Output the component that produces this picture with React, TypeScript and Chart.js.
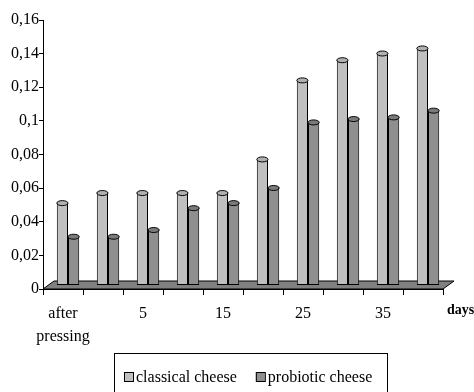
import React, { useEffect, useRef } from "react";
import { Chart, registerables } from "chart.js";

Chart.register(...registerables);

const categories: (string | string[])[] = [["after", "pressing"], "", "5", "", "15", "", "25", "", "35", ""];
const classicalCheese = [0.049, 0.055, 0.055, 0.055, 0.055, 0.075, 0.122, 0.134, 0.138, 0.141];
const probioticCheese = [0.029, 0.029, 0.033, 0.046, 0.049, 0.058, 0.097, 0.099, 0.1, 0.104];
const seriesNames = ["classical cheese", "probiotic cheese"];
const yTickLabels = ["0", "0,02", "0,04", "0,06", "0,08", "0,1", "0,12", "0,14", "0,16"];
const xAxisTitle = "days";

const FONT = "'Liberation Serif', 'Times New Roman', serif";
const barColors = ["#c0c0c0", "#8f8f8f"];
const capColors = ["#b0b0b0", "#7a7a7a"];

const decor = {
  id: "decor",
  beforeDatasetsDraw(chart: any) {
    const { ctx, chartArea } = chart;
    const { left, right, bottom } = chartArea;
    ctx.save();
    ctx.beginPath();
    ctx.moveTo(left, bottom);
    ctx.lineTo(right, bottom);
    ctx.lineTo(right + 11, bottom - 8);
    ctx.lineTo(left + 11, bottom - 8);
    ctx.closePath();
    ctx.fillStyle = "#808080";
    ctx.fill();
    ctx.strokeStyle = "#000";
    ctx.lineWidth = 1;
    ctx.stroke();
    ctx.restore();
    ctx.save();
    ctx.translate(5, -3.5);
  },
  afterDatasetsDraw(chart: any) {
    const ctx = chart.ctx;
    chart.data.datasets.forEach((_ds: any, di: number) => {
      const meta = chart.getDatasetMeta(di);
      meta.data.forEach((bar: any) => {
        const { x, y, width } = bar.getProps(["x", "y", "width"], true);
        ctx.beginPath();
        ctx.ellipse(x, y, width / 2, 2.5, 0, 0, Math.PI * 2);
        ctx.fillStyle = capColors[di];
        ctx.fill();
        ctx.strokeStyle = "#000";
        ctx.lineWidth = 1;
        ctx.stroke();
      });
    });
    ctx.restore();
  },
  afterDraw(chart: any) {
    const { ctx, chartArea } = chart;
    ctx.save();
    ctx.fillStyle = "#000";
    ctx.font = `bold 14px ${FONT}`;
    ctx.textBaseline = "alphabetic";
    ctx.textAlign = "left";
    ctx.fillText(xAxisTitle, chartArea.right + 4, 314);
    ctx.strokeStyle = "#000";
    ctx.lineWidth = 1;
    ctx.strokeRect(114.5, 353.5, 273, 60);
    ctx.font = `16px ${FONT}`;
    let x = 124;
    seriesNames.forEach((name, i) => {
      ctx.fillStyle = barColors[i];
      ctx.fillRect(x, 372, 9, 9);
      ctx.strokeStyle = "#000";
      ctx.strokeRect(x + 0.5, 372.5, 9, 9);
      ctx.fillStyle = "#000";
      ctx.fillText(name, x + 12, 382);
      x += 12 + ctx.measureText(name).width + 19;
    });
    ctx.restore();
  },
};

export default function App() {
  const ref = useRef<HTMLCanvasElement | null>(null);
  useEffect(() => {
    if (!ref.current) return;
    const chart = new Chart(ref.current, {
      type: "bar",
      data: {
        labels: categories,
        datasets: [
          {
            label: seriesNames[0],
            data: classicalCheese,
            backgroundColor: barColors[0],
            borderColor: "#000",
            borderWidth: 1,
            borderSkipped: false,
            categoryPercentage: 0.56,
            barPercentage: 1,
          },
          {
            label: seriesNames[1],
            data: probioticCheese,
            backgroundColor: barColors[1],
            borderColor: "#000",
            borderWidth: 1,
            borderSkipped: false,
            categoryPercentage: 0.56,
            barPercentage: 1,
          },
        ],
      },
      options: {
        animation: false,
        responsive: true,
        maintainAspectRatio: false,
        layout: { padding: { top: 20, right: 31, bottom: 0, left: 0 } },
        plugins: { legend: { display: false }, tooltip: { enabled: false } },
        scales: {
          x: {
            grid: { display: true, offset: true, drawOnChartArea: false, tickLength: 6, color: "#000" },
            border: { display: true, color: "#000", width: 1 },
            ticks: {
              color: "#000",
              font: { family: FONT, size: 16, lineHeight: 1.45 },
              padding: 7,
              maxRotation: 0,
              autoSkip: false,
            },
            afterFit: (s: any) => {
              s.height = 103;
            },
          },
          y: {
            min: 0,
            max: 0.16,
            grid: { display: true, drawOnChartArea: false, tickLength: 4, color: "#000" },
            border: { display: true, color: "#000", width: 1 },
            ticks: {
              stepSize: 0.02,
              color: "#000",
              padding: 0,
              font: { family: FONT, size: 16 },
              callback: (_v: any, i: number) => yTickLabels[i],
            },
            afterFit: (s: any) => {
              s.width = 43;
            },
          },
        },
      },
      plugins: [decor],
    });
    return () => chart.destroy();
  }, []);
  return (
    <div style={{ position: "fixed", left: 0, top: 0, width: 474, height: 392 }}>
      <canvas ref={ref} />
    </div>
  );
}
